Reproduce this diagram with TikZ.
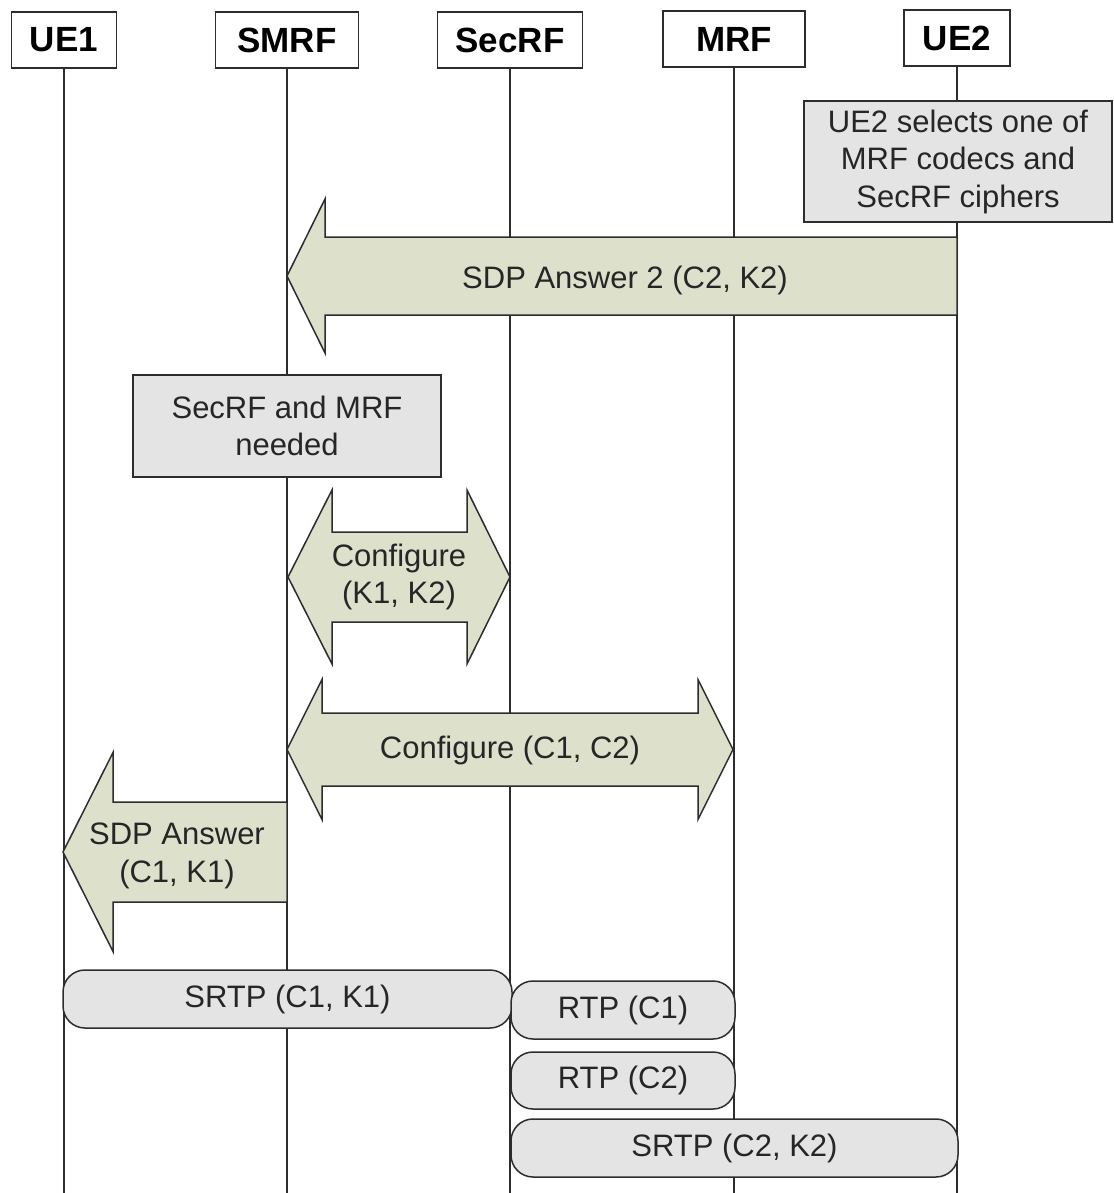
\documentclass[tikz,border=0pt]{standalone}
\usepackage{fontspec}
\setmainfont{Liberation Sans}
\definecolor{arrowgreen}{RGB}{221,225,204}
\definecolor{notegray}{RGB}{228,228,228}
\definecolor{txt}{RGB}{38,38,38}
\definecolor{edge}{RGB}{45,45,45}
\newcommand{\blockL}[6]{% tip, base, end, cy, bodyhalf, headhalf
  \draw[blk] (#1,#4) -- (#2,#4-#6) -- (#2,#4-#5) -- (#3,#4-#5) -- (#3,#4+#5) -- (#2,#4+#5) -- (#2,#4+#6) -- cycle;}
\newcommand{\blockLR}[7]{% lefttip, leftbase, rightbase, righttip, cy, bodyhalf, headhalf
  \draw[blk] (#1,#5) -- (#2,#5-#7) -- (#2,#5-#6) -- (#3,#5-#6) -- (#3,#5-#7) -- (#4,#5) -- (#3,#5+#7) -- (#3,#5+#6) -- (#2,#5+#6) -- (#2,#5+#7) -- cycle;}
\begin{document}
\begin{tikzpicture}[x=1pt,y=-1pt,
  hdr/.style={draw=edge, line width=1.5pt, fill=white, minimum height=56pt, inner sep=0pt,
    font=\fontsize{35}{42}\selectfont\bfseries},
  life/.style={draw=edge, line width=1.5pt},
  note/.style={draw=edge, line width=1.5pt, fill=notegray, align=center, inner sep=0pt,
    font=\fontsize{31}{37.5}\selectfont, text=txt},
  blk/.style={draw=edge, line width=1.5pt, fill=arrowgreen, line join=miter},
  lbl/.style={align=center, inner sep=0pt, font=\fontsize{31}{37.5}\selectfont, text=txt},
  pill/.style={draw=edge, line width=1.5pt, fill=notegray, rounded corners=22pt, inner sep=0pt,
    font=\fontsize{31}{37.5}\selectfont, text=txt}]
\useasboundingbox (0,0) rectangle (1113,1193);

% header boxes
\node[hdr, minimum width=105pt] (ue1) at (64,40) {UE1};
\node[hdr, minimum width=143pt] (smrf) at (287,40) {SMRF};
\node[hdr, minimum width=145pt] (secrf) at (510,40) {SecRF};
\node[hdr, minimum width=142pt] (mrf) at (734,39) {MRF};
\node[hdr, minimum width=106pt] (ue2) at (957,38) {UE2};

% lifeline ends
\coordinate (ue1e) at (64,1193);
\coordinate (smrfe) at (287,1193);
\coordinate (secrfe) at (510,1193);
\coordinate (mrfe) at (734,1193);
\coordinate (ue2e) at (957,1193);
\draw[life] (ue1.south) -- (ue1e);
\draw[life] (smrf.south) -- (smrfe);
\draw[life] (secrf.south) -- (secrfe);
\draw[life] (mrf.south) -- (mrfe);
\draw[life] (ue2.south) -- (ue2e);

% UE2 note
\node[note, minimum width=308pt, minimum height=121pt] (sel) at (958,161.5)
  {UE2 selects one of\\MRF codecs and\\SecRF ciphers};

% SDP Answer 2
\blockL{287}{325}{957}{276}{39}{77}
\node[lbl] (ans2) at (625,280) {SDP Answer 2 (C2, K2)};

% SecRF and MRF needed
\node[note, minimum width=308pt, minimum height=102pt] (need) at (287,426)
  {SecRF and MRF\\needed};

% Configure (K1, K2)
\blockLR{288}{332}{467}{510}{577}{45}{87}
\node[lbl] (cfgk) at (399,577) {Configure\\(K1, K2)};

% Configure (C1, C2)
\blockLR{287}{322}{698}{733}{749.5}{36.5}{70}
\node[lbl] (cfgc) at (510,750) {Configure (C1, C2)};

% SDP Answer (C1, K1)
\blockL{63}{113}{287}{852}{50}{99.5}
\node[lbl] (ans1) at (177,856) {SDP Answer\\(C1, K1)};

% media streams
\node[pill, minimum width=449pt, minimum height=58pt] (srtp1) at (287.5,999) {SRTP (C1, K1)};
\node[pill, minimum width=224pt, minimum height=58pt] (rtp1) at (623,1010) {RTP (C1)};
\node[pill, minimum width=224pt, minimum height=57pt] (rtp2) at (623,1080.5) {RTP (C2)};
\node[pill, minimum width=447pt, minimum height=58pt] (srtp2) at (734.5,1148) {SRTP (C2, K2)};
\end{tikzpicture}
\end{document}
